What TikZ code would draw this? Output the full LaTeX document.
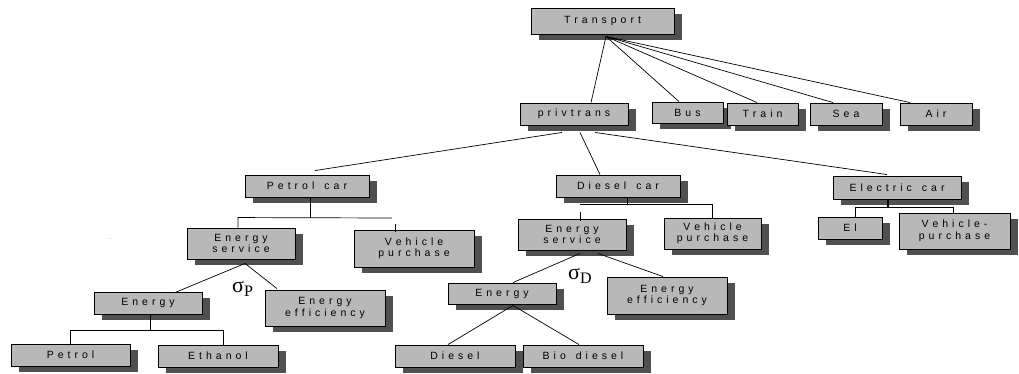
\documentclass[tikz,border=0pt]{standalone}
\usepackage{fontspec}
\setmainfont{Liberation Serif}
\newfontfamily\boxfont{Liberation Sans}
\usetikzlibrary{shadows,calc}
\definecolor{boxgray}{HTML}{B8B8B8}
\definecolor{shadowgray}{HTML}{505050}
\newlength\lsamt
\setlength\lsamt{4pt}
\makeatletter
\newcommand\ls[1]{\ls@#1\@nil\unkern}
\def\ls@#1{\ifx#1\@nil\else#1\kern\lsamt\expandafter\ls@\fi}
\makeatother
\newcommand\wsp{\hspace{10pt}}
\newcommand\siglab[1]{{\fontsize{22}{22}\selectfont σ}\raisebox{-4pt}{\fontsize{16}{16}\selectfont #1}}
\begin{document}
\begin{tikzpicture}[x=1pt,y=-1pt,
  box/.style={draw=black, line width=0.9pt, fill=boxgray,
    drop shadow={shadow xshift=8pt, shadow yshift=-6pt, fill=shadowgray, opacity=1},
    inner sep=0pt, align=center, text=black,
    font=\boxfont\fontsize{10.5}{11.5}\selectfont},
  conn/.style={line width=0.7pt, draw=black},
  siglabel/.style={inner sep=0pt}]
\useasboundingbox (0,0) rectangle (1019,374);
% ---- boxes
\node[box, minimum width=143pt, minimum height=26pt] (transport) at (602.5,21) {\ls{Transport}};
\node[box, minimum width=108pt, minimum height=22pt] (privtrans) at (574,114) {\ls{privtrans}};
\node[box, minimum width=71pt, minimum height=21pt] (bus) at (687.5,112.5) {\ls{Bus}};
\node[box, minimum width=71pt, minimum height=22pt] (train) at (762.5,114) {\ls{Train}};
\node[box, minimum width=72pt, minimum height=22pt] (sea) at (846,114) {\ls{Sea}};
\node[box, minimum width=72pt, minimum height=22pt] (air) at (936,114) {\ls{Air}};
\node[box, minimum width=124pt, minimum height=22pt] (pcar) at (307,186) {\ls{Petrol}\wsp\ls{car}};
\node[box, minimum width=124pt, minimum height=22pt] (dcar) at (618,186) {\ls{Diesel}\wsp\ls{car}};
\node[box, minimum width=128pt, minimum height=23pt] (ecar) at (897,187.5) {\ls{Electric}\wsp\ls{car}};
\node[box, minimum width=108pt, minimum height=31pt] (pes) at (241,243.5) {\ls{Energy}\\\ls{service}};
\node[box, minimum width=120pt, minimum height=37pt] (pvp) at (414,248.5) {\ls{Vehicle}\\\ls{purchase}};
\node[box, minimum width=108pt, minimum height=31pt] (des) at (572,234.5) {\ls{Energy}\\\ls{service}};
\node[box, minimum width=97pt, minimum height=31pt] (dvp) at (712.5,233.5) {\ls{Vehicle}\\\ls{purchase}};
\node[box, minimum width=64pt, minimum height=22pt] (el) at (850,228) {\ls{El}};
\node[box, minimum width=111pt, minimum height=36pt] (evp) at (954.5,231) {\ls{Vehicle-}\\\ls{purchase}};
\node[box, minimum width=108pt, minimum height=22pt] (pen) at (148,303) {\ls{Energy}};
\node[box, minimum width=120pt, minimum height=36pt] (pee) at (325,308) {\ls{Energy}\\\ls{efficiency}};
\node[box, minimum width=119pt, minimum height=22pt] (petrol) at (70.5,355) {\ls{Petrol}};
\node[box, minimum width=120pt, minimum height=22pt] (ethanol) at (218,356) {\ls{Ethanol}};
\node[box, minimum width=108pt, minimum height=21pt] (den) at (502,293.5) {\ls{Energy}};
\node[box, minimum width=120pt, minimum height=37pt] (dee) at (667,295.5) {\ls{Energy}\\\ls{efficiency}};
\node[box, minimum width=120pt, minimum height=22pt] (diesel) at (455,356) {\ls{Diesel}};
\node[box, minimum width=120pt, minimum height=22pt] (biodiesel) at (583,356) {\ls{Bio}\wsp\ls{diesel}};
% ---- labels
\node[siglabel, anchor=base west] (sigp) at (232,292) {\siglab{P}};
\node[siglabel, anchor=base west] (sigd) at (568,279) {\siglab{D}};
\node[font=\fontsize{4}{4}\selectfont, text=black!45, inner sep=0pt] (dots) at (110,239) {.....};
% ---- Transport fan
\coordinate (tp) at ([xshift=3.5pt,yshift=-2pt]transport.south);
\draw[conn] (tp) -- ([xshift=17pt]privtrans.north);
\draw[conn] (tp) -- ([xshift=-8.5pt]bus.north);
\draw[conn] (tp) -- ([xshift=-5.5pt]train.north);
\draw[conn] (tp) -- ([xshift=-13pt]sea.north);
\draw[conn] (tp) -- ([xshift=-26pt]air.north);
% ---- privtrans fan
\draw[conn] ([xshift=-12pt,yshift=-7pt]privtrans.south) -- ([xshift=8pt,yshift=4pt]pcar.north);
\draw[conn] ([xshift=6pt,yshift=-7pt]privtrans.south) -- ([xshift=-18pt]dcar.north);
\draw[conn] ([xshift=21pt,yshift=-7pt]privtrans.south) -- ([xshift=-10pt,yshift=1pt]ecar.north);
% ---- Petrol car tree
\coordinate (pj) at (310,218);
\draw[conn] (pcar.south -| pj) -- (pj);
\draw[conn] ([xshift=-3pt]pes.north) -- ++(0,-10) -- (392,218);
\draw[conn] ([xshift=-19pt,yshift=-2pt]pvp.north) -- ++(0,-8);
% ---- Petrol energy service
\draw[conn] ([xshift=4pt,yshift=-4pt]pes.south) -- ([xshift=27pt,yshift=-1pt]pen.north);
\draw[conn] ([xshift=4pt,yshift=-4pt]pes.south) -- ([xshift=-48pt,yshift=1pt]pee.north);
% ---- Petrol energy tree
\coordinate (pej) at (150,331);
\draw[conn] (pen.south -| pej) -- (pej);
\draw[conn] (petrol.north) -- ++(0,-13) -| ([xshift=5pt]ethanol.north);
% ---- Diesel car tree
\coordinate (dj) at (627,204);
\draw[conn] (dcar.south -| dj) -- (dj);
\draw[conn] ([xshift=8pt,yshift=-2pt]des.north) -- ++(0,-9);
\draw[conn] (580,204) -| (dvp.north);
% ---- Diesel energy service
\draw[conn] ([xshift=8pt,yshift=-3pt]des.south) -- ([xshift=11pt]den.north);
\draw[conn] ([xshift=26pt,yshift=-3pt]des.south) -- ([xshift=-4pt]dee.north);
% ---- Diesel energy
\draw[conn] ([xshift=11pt,yshift=-1pt]den.south) -- ([xshift=-7pt]diesel.north);
\draw[conn] ([xshift=11pt,yshift=-1pt]den.south) -- ([xshift=-4pt]biodiesel.north);
% ---- Electric car tree
\coordinate (ej) at (888,208);
\draw[line width=1.6pt] (ecar.south -| ej) -- (ej);
\draw[conn] ([xshift=5pt]el.north) -- ++(0,-9) -| ([xshift=-1.5pt]evp.north);
\end{tikzpicture}
\end{document}
